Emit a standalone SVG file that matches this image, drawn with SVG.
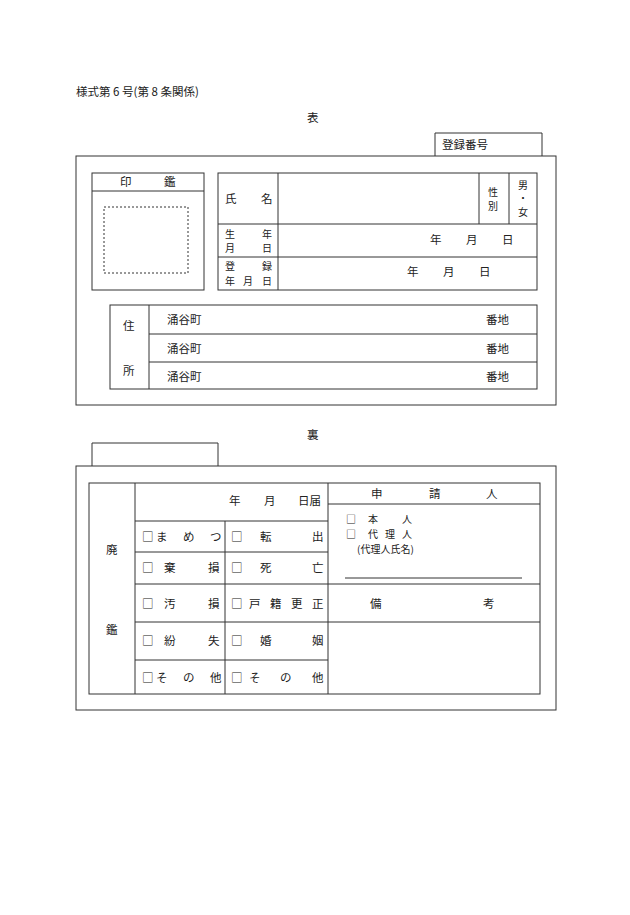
<svg xmlns="http://www.w3.org/2000/svg" width="630" height="915" viewBox="0 0 630 915">
<style>
rect,line,path{fill:none;stroke:#333;stroke-width:1}
.d{stroke-dasharray:2,2}
text{font-family:"Noto Sans CJK JP","Liberation Serif",sans-serif;font-size:11.5px;fill:#222}
.s{font-size:10px}
</style>
<rect x="0" y="0" width="630" height="915" style="fill:#fff;stroke:none"/>
<text x="76" y="96">様式第 6 号(第 8 条関係)</text>
<text x="307" y="122">表</text>
<g id="front">
<path d="M435,156V133H542V156"/>
<text x="442" y="149">登録番号</text>
<rect x="76" y="156" width="480" height="249"/>
<rect x="92" y="173" width="112" height="117"/>
<line x1="92" y1="191" x2="204" y2="191"/>
<text x="120" y="186">印</text><text x="164" y="186">鑑</text>
<rect class="d" x="104" y="207" width="84" height="66"/>
<rect x="218" y="173" width="319" height="117"/>
<line x1="278" y1="173" x2="278" y2="290"/>
<line x1="218" y1="224" x2="537" y2="224"/>
<line x1="218" y1="257" x2="537" y2="257"/>
<line x1="479" y1="173" x2="479" y2="224"/>
<line x1="509" y1="173" x2="509" y2="224"/>
<text x="225" y="203">氏</text><text x="261" y="203">名</text>
<text class="s" x="488" y="196">性</text><text class="s" x="488" y="210">別</text>
<text class="s" x="518" y="189">男</text><text class="s" x="518" y="202">・</text><text class="s" x="518" y="216">女</text>
<text class="s" x="225" y="238">生</text><text class="s" x="262" y="238">年</text>
<text class="s" x="225" y="252">月</text><text class="s" x="262" y="252">日</text>
<text x="430" y="244">年</text><text x="466" y="244">月</text><text x="502" y="244">日</text>
<text class="s" x="225" y="270">登</text><text class="s" x="262" y="270">録</text>
<text class="s" x="225" y="285">年</text><text class="s" x="243" y="285">月</text><text class="s" x="262" y="285">日</text>
<text x="407" y="276">年</text><text x="443" y="276">月</text><text x="479" y="276">日</text>
<rect x="110" y="305" width="427" height="84"/>
<line x1="149" y1="305" x2="149" y2="389"/>
<line x1="149" y1="334" x2="537" y2="334"/>
<line x1="149" y1="362" x2="537" y2="362"/>
<text x="123" y="330">住</text><text x="123" y="375">所</text>
<text x="167" y="324">涌谷町</text><text x="486" y="324">番地</text>
<text x="167" y="353">涌谷町</text><text x="486" y="353">番地</text>
<text x="167" y="381">涌谷町</text><text x="486" y="381">番地</text>
</g>
<text x="307" y="439">裏</text>
<g id="back">
<path d="M92,466V443H218V466"/>
<rect x="76" y="466" width="480" height="244"/>
<rect x="89" y="483" width="451" height="211"/>
<line x1="135" y1="483" x2="135" y2="694"/>
<line x1="328" y1="483" x2="328" y2="694"/>
<line x1="225" y1="521" x2="225" y2="694"/>
<line x1="135" y1="521" x2="328" y2="521"/>
<line x1="135" y1="552" x2="328" y2="552"/>
<line x1="135" y1="584" x2="540" y2="584"/>
<line x1="135" y1="622" x2="540" y2="622"/>
<line x1="135" y1="660" x2="328" y2="660"/>
<line x1="328" y1="504" x2="540" y2="504"/>
<line x1="345" y1="578" x2="522" y2="578"/>
<text x="106" y="554">廃</text><text x="106" y="634">鑑</text>
<text x="229" y="505">年</text><text x="264" y="505">月</text><text x="298" y="505">日届</text>
<text x="371" y="498">申</text><text x="429" y="498">請</text><text x="486" y="498">人</text>
<text class="s" x="346" y="523">□</text><text class="s" x="368" y="523">本</text><text class="s" x="402" y="523">人</text>
<text class="s" x="346" y="538">□</text><text class="s" x="368" y="538">代</text><text class="s" x="385" y="538">理</text><text class="s" x="402" y="538">人</text>
<text class="s" x="357" y="553">(代理人氏名)</text>
<text x="370" y="608">備</text><text x="483" y="608">考</text>
<text x="142" y="541">□</text><text x="156" y="541">ま</text><text x="183" y="541">め</text><text x="210" y="541">つ</text>
<text x="231" y="541">□</text><text x="260" y="541">転</text><text x="312" y="541">出</text>
<text x="142" y="572">□</text><text x="164" y="572">棄</text><text x="208" y="572">損</text><text x="231" y="572">□</text><text x="260" y="572">死</text><text x="312" y="572">亡</text>
<text x="142" y="608">□</text><text x="164" y="608">汚</text><text x="208" y="608">損</text>
<text x="231" y="608">□</text><text x="249" y="608">戸</text><text x="270" y="608">籍</text><text x="291" y="608">更</text><text x="312" y="608">正</text>
<text x="142" y="645">□</text><text x="164" y="645">紛</text><text x="208" y="645">失</text><text x="231" y="645">□</text><text x="260" y="645">婚</text><text x="312" y="645">姻</text>
<text x="142" y="682">□</text><text x="156" y="682">そ</text><text x="183" y="682">の</text><text x="210" y="682">他</text>
<text x="231" y="682">□</text><text x="249" y="682">そ</text><text x="280" y="682">の</text><text x="312" y="682">他</text>
</g>
</svg>
